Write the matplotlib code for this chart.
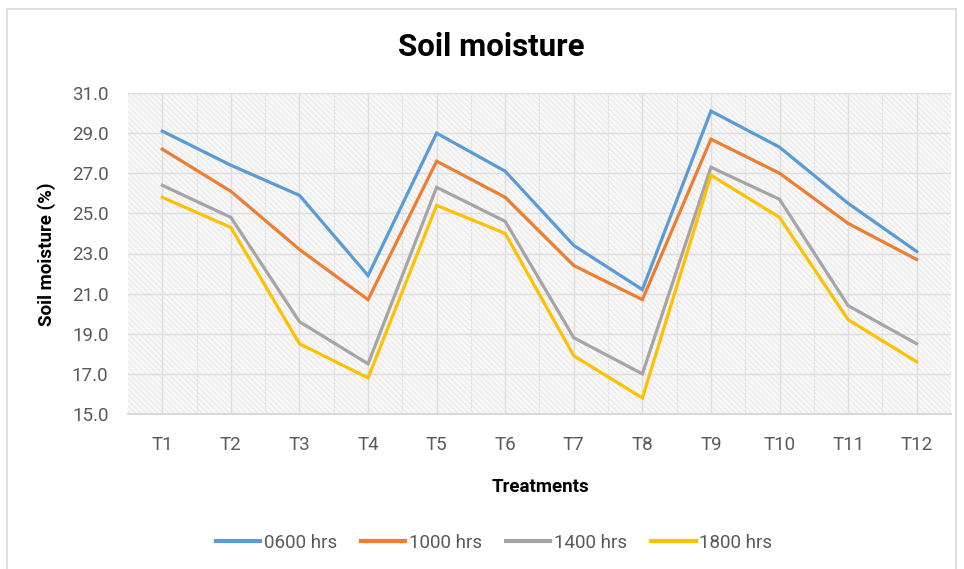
import matplotlib
matplotlib.use("Agg")
import matplotlib.pyplot as plt
from matplotlib import font_manager as fm
from matplotlib.patches import Rectangle

names = {f.name for f in fm.fontManager.ttflist}
narrow = "Liberation Sans Narrow" if "Liberation Sans Narrow" in names else "Roboto"
plt.rcParams['font.family'] = [narrow, 'DejaVu Sans']
plt.rcParams['hatch.color'] = '#e8e8e8'
plt.rcParams['hatch.linewidth'] = 0.7

categories = ["T1", "T2", "T3", "T4", "T5", "T6", "T7", "T8", "T9", "T10", "T11", "T12"]
hrs_0600 = [29.1, 27.4, 25.9, 21.9, 29.0, 27.1, 23.4, 21.2, 30.1, 28.3, 25.5, 23.1]
hrs_1000 = [28.2, 26.1, 23.2, 20.7, 27.6, 25.8, 22.4, 20.7, 28.7, 27.0, 24.5, 22.7]
hrs_1400 = [26.4, 24.8, 19.6, 17.5, 26.3, 24.6, 18.8, 17.0, 27.3, 25.7, 20.4, 18.5]
hrs_1800 = [25.8, 24.3, 18.5, 16.8, 25.4, 24.0, 17.9, 15.8, 26.9, 24.8, 19.7, 17.6]
series_names = ["0600 hrs", "1000 hrs", "1400 hrs", "1800 hrs"]
colors = ["#5B9BD5", "#ED7D31", "#A5A5A5", "#FFC000"]
yticks = [15.0, 17.0, 19.0, 21.0, 23.0, 25.0, 27.0, 29.0, 31.0]

W, H = 964, 569
fig = plt.figure(figsize=(W/100, H/100), dpi=100)
fig.patch.set_facecolor('white')
# outer frame
fig.add_artist(Rectangle((7/W, -0.01), (956-7)/W, 1 - 9/H + 0.01, transform=fig.transFigure,
                         fill=False, edgecolor='#d9d9d9', linewidth=1.2))

left, right, top, bottom = 128, 951, 93, 414
ax = fig.add_axes([left/W, 1 - bottom/H, (right-left)/W, (bottom-top)/H])
ax.set_facecolor('#f8f8f8')
ax.add_patch(Rectangle((0, 0), 1, 1, transform=ax.transAxes, facecolor='none',
                       hatch='\\\\\\\\\\\\', edgecolor='#e8e8e8', linewidth=0, zorder=0))

x = list(range(len(categories)))
for vals, name, c in zip([hrs_0600, hrs_1000, hrs_1400, hrs_1800], series_names, colors):
    ax.plot(x, vals, color=c, linewidth=2.3, label=name, solid_joinstyle='miter', zorder=3)

ax.set_xlim(-0.5, len(categories) - 0.5)
ax.set_ylim(15, 31)
ax.set_yticks(yticks)
ax.set_yticklabels([f"{v:.1f}" for v in yticks])
ax.set_xticks(x)
ax.set_xticklabels(categories)
ax.set_xticks([i + 0.5 for i in x[:-1]], minor=True)
ax.tick_params(axis='both', which='both', length=0, labelsize=13.5, colors='#595959')
ax.tick_params(axis='x', pad=16)
ax.tick_params(axis='y', pad=14)
ax.grid(True, which='major', axis='both', color='#dedede', linewidth=1.0, zorder=1)
ax.grid(True, which='minor', axis='x', color='#e0e0e0', linewidth=0.8, linestyle=(0, (2, 1)), zorder=1)
ax.set_axisbelow(True)
for s in ['top', 'right', 'left']:
    ax.spines[s].set_visible(False)
ax.spines['bottom'].set_color('#d9d9d9')
ax.spines['bottom'].set_linewidth(1.5)

fig.text(491/W, 1 - 47/H, "Soil moisture", ha='center', va='center', fontsize=22.5,
         fontweight='bold', color='black')
fig.text(540/W, 1 - 487/H, "Treatments", ha='center', va='center', fontsize=13.5,
         fontweight='bold', color='black')
fig.text(47/W, 1 - 254/H, "Soil moisture (%)", ha='center', va='center', fontsize=13.5,
         fontweight='bold', color='black', rotation=90)

leg = fig.legend(loc='center', bbox_to_anchor=(494/W, 1 - 543/H), ncol=4, frameon=False,
                 fontsize=13.5, handlelength=2.35, handletextpad=0.2, columnspacing=1.3)
for t in leg.get_texts():
    t.set_color('#595959')
for l in leg.get_lines():
    l.set_linewidth(3)

fig.savefig("out.png", dpi=100)
